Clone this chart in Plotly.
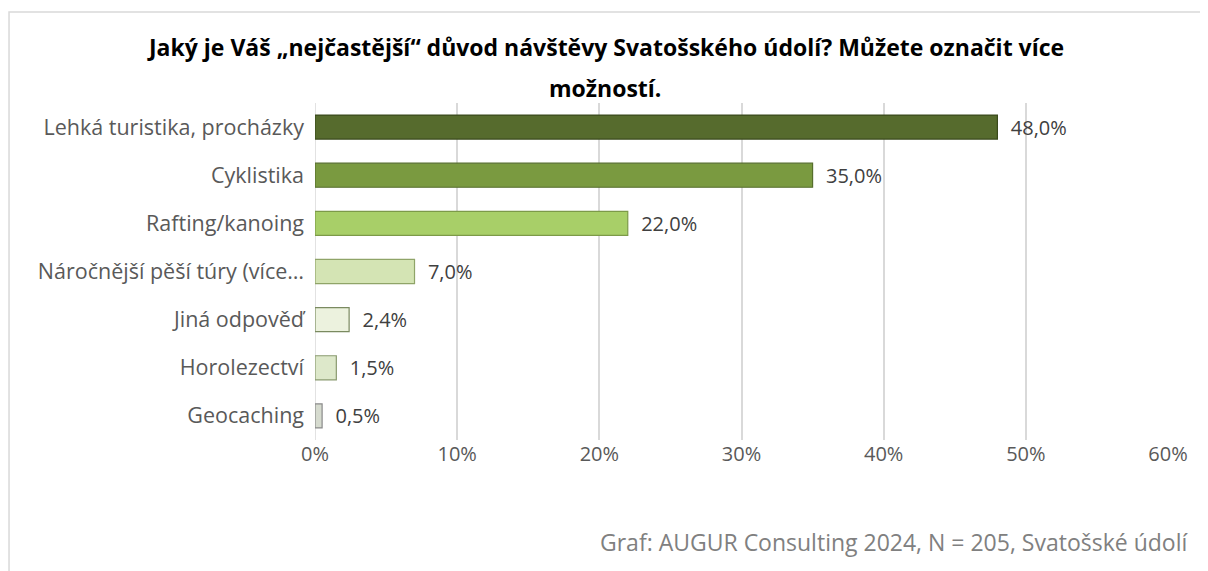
import plotly.graph_objects as go

categories = [
    "Lehká turistika, procházky",
    "Cyklistika",
    "Rafting/kanoing",
    "Náročnější pěší túry (více…",
    "Jiná odpověď",
    "Horolezectví",
    "Geocaching",
]
values = [48.0, 35.0, 22.0, 7.0, 2.4, 1.5, 0.5]
bar_colors = ["#566B2D", "#7A9A40", "#A8CF68", "#D4E4B4", "#ECF2DE", "#DDE8CA", "#D6DBCF"]
line_colors = ["#3A4A1C", "#566E2C", "#7C9A48", "#8FA468", "#7A8A60", "#8A9A70", "#8A8A8A"]
x_ticks = [0, 10, 20, 30, 40, 50, 60]

title_line1 = "Jaký je Váš „nejčastější“ důvod návštěvy Svatošského údolí? Můžete označit více"
title_line2 = "možností."
source_text = "Graf: AUGUR Consulting 2024, N = 205, Svatošské údolí"

FONT = "Open Sans"

fig = go.Figure()
fig.add_trace(go.Bar(
    y=categories,
    x=values,
    orientation="h",
    marker=dict(color=bar_colors, line=dict(color=line_colors, width=1.2)),
    text=values,
    texttemplate="\u00a0\u00a0%{x:.1f}%",
    textposition="outside",
    constraintext="none",
    textfont=dict(family=FONT, size=20, color="#404040"),
    cliponaxis=False,
    hoverinfo="skip",
))

fig.update_layout(
    width=1200,
    height=563,
    margin=dict(l=307, r=40, t=95, b=131),
    paper_bgcolor="white",
    plot_bgcolor="white",
    separators=", ",
    bargap=0.5,
    showlegend=False,
    xaxis=dict(
        range=[0, 60],
        tickvals=x_ticks,
        ticktext=[f"{t}%" for t in x_ticks],
        showgrid=True,
        gridcolor="#D9D9D9",
        gridwidth=1.5,
        zeroline=False,
        showline=False,
        tickfont=dict(family=FONT, size=20, color="#595959"),
        ticks="",
        ticklabelstandoff=0,
        automargin=False,
    ),
    yaxis=dict(
        autorange="reversed",
        showgrid=False,
        showline=False,
        zeroline=False,
        tickfont=dict(family=FONT, size=21.5, color="#595959"),
        ticks="",
        ticklabelstandoff=10,
        automargin=False,
    ),
    shapes=[
        dict(type="rect", xref="paper", yref="paper",
             x0=-0.3587, x1=1.06, y0=-0.45, y1=1.270,
             line=dict(color="#D9D9D9", width=1.5), fillcolor="rgba(0,0,0,0)", layer="below"),
        dict(type="line", xref="x", yref="paper", x0=0, x1=0, y0=0, y1=1,
             line=dict(color="#D9D9D9", width=1.5), layer="below"),
    ],
    annotations=[
        dict(text="<b>" + title_line1 + "</b>", xref="paper", yref="paper",
             x=0.340, y=1.166, xanchor="center", yanchor="middle",
             showarrow=False, font=dict(family=FONT, size=23, color="#000000")),
        dict(text="<b>" + title_line2 + "</b>", xref="paper", yref="paper",
             x=0.340, y=1.0445, xanchor="center", yanchor="middle",
             showarrow=False, font=dict(family=FONT, size=23, color="#000000")),
        dict(text=source_text, xref="paper", yref="paper",
             x=1.0258, y=-0.3027, xanchor="right", yanchor="middle",
             showarrow=False, font=dict(family=FONT, size=23, color="#808080")),
    ],
)

fig.write_html("out.html")
